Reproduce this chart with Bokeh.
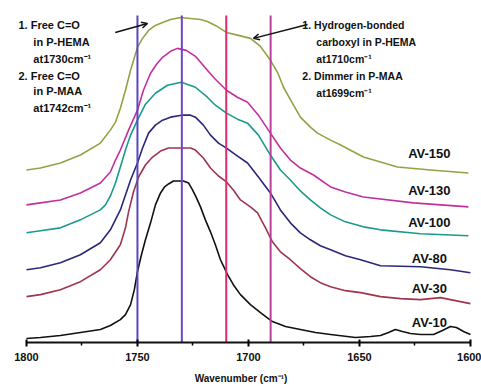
from bokeh.plotting import figure
from bokeh.models import Range1d, FixedTicker, Arrow, OpenHead
from bokeh.core.properties import value
from bokeh.embed import file_html
from bokeh.resources import INLINE

# ---- data (wavenumber in cm^-1, absorbance in arbitrary stacked units) ----
series_names = ["AV-150", "AV-130", "AV-100", "AV-80", "AV-30", "AV-10"]

wn_av150 = [1800, 1793.7, 1784.7, 1775.7, 1766.7, 1762.2, 1759.9, 1757.7, 1755.4, 1753.1, 1750,
            1747.7, 1745, 1741.9, 1738.7, 1735.1, 1730.6, 1726.1, 1721.6, 1718.5, 1714.9, 1709.9,
            1704.5, 1699.1, 1694.6, 1690.1, 1686.9, 1684.2, 1680.2, 1676.6, 1672.1, 1668.9, 1663.0,
            1658.5, 1648.2, 1640.5, 1632.9, 1618.0, 1600.9]
ab_av150 = [173, 175, 180, 188, 200, 213, 221, 235, 253, 273, 296,
            305, 313, 318, 321, 324, 326, 325, 324, 322, 318, 311,
            308, 305, 297, 283, 271, 256, 240, 226, 216, 210, 203,
            198, 186, 181, 176, 173, 170]

wn_av130 = [1800, 1793.7, 1784.7, 1775.7, 1766.7, 1762.2, 1759.9, 1757.7, 1754.0, 1750, 1747.3,
            1744.1, 1741.4, 1738.7, 1735.1, 1732.0, 1728.0, 1723.9, 1718.5, 1714.9, 1709.9, 1705.0,
            1700.4, 1695.5, 1690.1, 1685.6, 1681.1, 1676.6, 1670.7, 1663.0, 1656.3, 1648.2, 1625.7, 1600.9]
ab_av130 = [138, 140, 143, 150, 160, 171, 183, 193, 213, 233, 253,
            270, 279, 286, 292, 295, 293, 287, 273, 264, 253, 246,
            241, 228, 210, 195, 183, 175, 168, 156, 151, 146, 140, 136]

wn_av100 = [1800, 1793.7, 1784.7, 1775.7, 1766.7, 1764.4, 1762.2, 1759.9, 1757.7, 1755.4, 1753.1,
            1750, 1746.4, 1741.9, 1736.5, 1730.2, 1723.9, 1718.5, 1714.9, 1709.9, 1704.9, 1700.4,
            1695.5, 1690.1, 1685.6, 1681.1, 1676.6, 1672.1, 1667.6, 1663.0, 1656.3, 1648.2, 1640.5,
            1622.5, 1600.9]
ab_av100 = [110, 112, 115, 123, 133, 138, 147, 160, 176, 193, 208,
            223, 239, 250, 258, 261, 256, 246, 238, 230, 224, 220,
            208, 188, 173, 163, 152, 143, 135, 128, 121, 116, 113,
            109, 107]

wn_av80 = [1800, 1793.7, 1784.7, 1775.7, 1766.7, 1762.2, 1757.7, 1755.4, 1753.1, 1750, 1747.7,
           1745, 1741.9, 1738.7, 1735.1, 1730.2, 1726.1, 1723.9, 1720.3, 1717.1, 1713.5, 1709.9,
           1704.9, 1700.4, 1695.5, 1690.1, 1685.6, 1681.1, 1676.6, 1672.1, 1667.6, 1663.0, 1656.3,
           1649.5, 1640.5, 1622.5, 1609.0, 1600]
ab_av80 = [73, 75, 80, 88, 100, 113, 133, 148, 163, 180, 195,
           210, 218, 223, 226, 228, 228, 226, 218, 208, 200, 195,
           187, 180, 166, 150, 133, 120, 110, 103, 97, 93, 87,
           83, 77, 76, 73, 70]

wn_av30 = [1800, 1793.7, 1784.7, 1775.7, 1766.7, 1762.2, 1757.7, 1755.4, 1754.0, 1751.8, 1749.5,
           1746.4, 1743.2, 1739.6, 1736.0, 1730.2, 1726.1, 1723.9, 1720.3, 1717.1, 1713.5, 1709.9,
           1706.8, 1703.6, 1699.1, 1695.9, 1692.3, 1689.2, 1685.6, 1681.1, 1676.6, 1672.1, 1667.6,
           1663.0, 1656.3, 1649.5, 1640.5, 1631.5, 1622.5, 1613.5, 1604.5, 1600]
ab_av30 = [46, 48, 53, 61, 73, 83, 98, 115, 131, 151, 166,
           178, 186, 192, 195, 195, 195, 193, 185, 175, 167, 161,
           153, 143, 136, 130, 115, 101, 91, 83, 74, 66, 60,
           56, 52, 50, 46, 44, 43, 45, 41, 39]

wn_av10 = [1800, 1793.7, 1784.7, 1775.7, 1766.7, 1762.2, 1757.7, 1755.4, 1753.1, 1751.4, 1750,
           1748.2, 1746.4, 1744.1, 1741.9, 1739.6, 1737.8, 1736.0, 1733.8, 1731.5, 1729.3, 1727.0,
           1725.2, 1723.4, 1721.6, 1719.4, 1717.1, 1714.9, 1712.6, 1709.4, 1706.8, 1703.6, 1699.1,
           1694.6, 1689.2, 1683.3, 1676.6, 1669.8, 1663.0, 1651.8, 1645.0, 1640.5, 1636.9, 1633.8,
           1630.6, 1627.0, 1622.5, 1616.6, 1612.6, 1609.0, 1606.3, 1603.1, 1600]
ab_av10 = [4, 5, 7, 10, 13, 17, 23, 28, 38, 53, 71,
           88, 103, 120, 138, 150, 156, 159, 162, 162, 162, 160,
           153, 145, 136, 123, 111, 98, 83, 68, 58, 48, 38,
           30, 21, 16, 13, 10, 8, 5, 6, 7, 10, 13,
           11, 9, 8, 8, 12, 16, 15, 11, 8]

marker_wn = [1750, 1730, 1710, 1690]
x_ticks = [1600, 1650, 1700, 1750, 1800]
x_minor = [1625, 1675, 1725, 1775]

left_notes = ["1. Free C=O", "in P-HEMA", "at1730cm\u207b\u00b9",
              "2. Free C=O", "in P-MAA", "at1742cm\u207b\u00b9"]
right_notes = ["1. Hydrogen-bonded", "carboxyl in P-HEMA", "at1710cm\u207b\u00b9",
               "2. Dimmer in P-MAA", "at1699cm\u207b\u00b9"]

# ---- figure ----
p = figure(width=481, height=386, x_range=Range1d(1811.7, 1595.0), y_range=Range1d(0, 343),
           output_backend="svg", toolbar_location=None, y_axis_location=None,
           min_border_left=0, min_border_right=0, min_border_top=0, min_border_bottom=43)
p.outline_line_color = None
p.xgrid.visible = False
p.ygrid.visible = False
p.background_fill_color = "white"
p.border_fill_color = "white"

colors = ["#98a044", "#c2309e", "#1a9a8c", "#2a2878", "#a0344e", "#111111"]
wns = [wn_av150, wn_av130, wn_av100, wn_av80, wn_av30, wn_av10]
abs_ = [ab_av150, ab_av130, ab_av100, ab_av80, ab_av30, ab_av10]
for w, a, c in zip(wns, abs_, colors):
    p.line(w, a, line_color=c, line_width=1.6, line_join="round")

marker_colors = ["#5a46c0", "#6e44c8", "#e02a70", "#b8409a"]
p.segment(x0=marker_wn, y0=[0] * 4, x1=marker_wn, y1=[328] * 4,
          line_color=marker_colors, line_width=2)

font = value("Liberation Sans")
# series labels
p.text(x=[1618.5] * 6, y=[190, 152, 120, 84, 54, 20], text=series_names,
       text_font=font, text_font_style="bold", text_font_size="13px",
       text_align="center", text_baseline="middle", text_color="#111111")

# left annotation block
p.text(x=[1803.6, 1796.9, 1796.9, 1803.6, 1796.9, 1796.9],
       y=[318, 301, 284, 267, 252, 235], text=left_notes,
       text_font=font, text_font_style="bold", text_font_size="11px",
       text_align="left", text_baseline="middle", text_color="#111111")
# right annotation block
p.text(x=[1675.7, 1669.4, 1669.4, 1675.7, 1669.4],
       y=[318, 301, 284, 267, 250], text=right_notes,
       text_font=font, text_font_style="bold", text_font_size="10.5px",
       text_align="left", text_baseline="middle", text_color="#111111")

p.add_layout(Arrow(end=OpenHead(size=6, line_width=1.5, line_color="#111111"),
                   x_start=1760, y_start=311, x_end=1745.5, y_end=320,
                   line_width=1.5, line_color="#111111"))
p.add_layout(Arrow(end=OpenHead(size=6, line_width=1.5, line_color="#111111"),
                   x_start=1673.4, y_start=319, x_end=1697.7, y_end=305,
                   line_width=1.5, line_color="#111111"))

ax = p.xaxis[0]
ax.bounds = (1600, 1800)
ax.ticker = FixedTicker(ticks=x_ticks, minor_ticks=x_minor)
ax.axis_line_width = 2
ax.axis_line_color = "#111111"
ax.major_tick_in = 3
ax.major_tick_out = 4
ax.minor_tick_in = 0
ax.minor_tick_out = 3
ax.major_tick_line_width = 2
ax.minor_tick_line_width = 1.5
ax.major_label_standoff = 6
ax.major_label_text_font = "Liberation Sans"
ax.major_label_text_font_style = "bold"
ax.major_label_text_font_size = "11px"
ax.major_label_text_color = "#111111"
ax.axis_label = "Wavenumber (cm\u207b\u00b9)"
ax.axis_label_text_font = "Liberation Sans"
ax.axis_label_text_font_style = "bold"
ax.axis_label_text_font_size = "10px"
ax.axis_label_standoff = 9
ax.axis_label_text_color = "#111111"

open("out.html", "w").write(file_html(p, INLINE))
